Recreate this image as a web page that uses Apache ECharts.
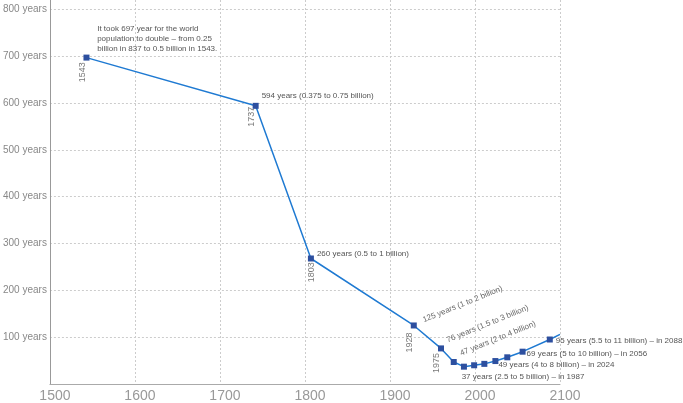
<!DOCTYPE html>
<html><head><meta charset="utf-8">
<script src="https://cdn.jsdelivr.net/npm/echarts@6/dist/echarts.min.js"></script>
<style>html,body{margin:0;padding:0;background:#fff}#c{width:683px;height:403px}</style>
</head><body><div id="c"></div>
<script>
// Data
const years = [1543, 1742, 1807, 1928, 1960, 1975, 1987, 1999, 2011, 2024, 2038, 2056, 2088, 2100];
const doublingYears = [697, 594, 268, 125, 76, 47, 37, 40, 43, 49, 57, 69, 95, 106];
const yearLabels = ['1543', '1737', '1803', '1928', '1975'];
const descTexts = [
  'It took 697 year for the world\npopulation to double – from 0.25\nbillion in 837 to 0.5 billion in 1543.',
  '594 years (0.375 to 0.75 billion)',
  '260 years (0.5 to 1 billion)',
  '125 years (1 to 2 billion)',
  '76 years (1.5 to 3 billion)',
  '47 years (2 to 4 billion)',
  '37 years (2.5 to 5 billion) – in 1987',
  '', '',
  '49 years (4 to 8 billion) – in 2024',
  '',
  '69 years (5 to 10 billion) – in 2056',
  '95 years (5.5 to 11 billion) – in 2088',
  ''
];
const xTicks = [1500, 1600, 1700, 1800, 1900, 2000, 2100];
const yTicks = [100, 200, 300, 400, 500, 600, 700, 800];

// Styling / placement (not data)
const FONT = 'Liberation Sans, Arial, sans-serif';
const descLayout = {
  0: {offset: [10.7, -19], rotate: 0, color: '#555'},
  1: {offset: [6, -10], rotate: 0, color: '#555'},
  2: {offset: [6, -5], rotate: 0, color: '#555'},
  3: {offset: [10.6, -1.4], rotate: 22, color: '#666'},
  4: {offset: [8.6, -5.2], rotate: 22, color: '#666'},
  5: {offset: [9.3, -5.2], rotate: 22, color: '#666'},
  6: {offset: [-2.3, 10], rotate: 0, color: '#555'},
  9: {offset: [3, 4], rotate: 0, color: '#555'},
  11: {offset: [4, 2.4], rotate: 0, color: '#555'},
  12: {offset: [6, 1.5], rotate: 0, color: '#555'}
};
const yearLabelOffsets = [[-14.7, -4.3], [-11, -3.7], [-13.7, 0.3], [-17, -4.7], [-14.7, -4.3]];

const lineData = years.map((y, i) => {
  const item = {value: [y, doublingYears[i]]};
  if (i === years.length - 1) item.symbol = 'none';
  const lay = descLayout[i];
  if (lay && descTexts[i]) {
    item.label = {
      show: true, formatter: descTexts[i], position: 'inside',
      align: 'left', verticalAlign: 'middle', rotate: lay.rotate,
      offset: lay.offset, color: lay.color, fontSize: 8, lineHeight: 10, fontFamily: FONT
    };
  }
  return item;
});

const yearData = yearLabels.map((t, i) => ({
  value: [years[i], doublingYears[i]],
  label: {
    show: true, formatter: t, position: 'inside', rotate: 90,
    align: 'center', verticalAlign: 'middle', offset: yearLabelOffsets[i],
    color: '#555', fontSize: 9, fontFamily: FONT
  }
}));

const chart = echarts.init(document.getElementById('c'), null, {renderer: 'canvas'});
chart.setOption({
  animation: false,
  backgroundColor: '#fff',
  grid: {left: 48, right: 123, top: 0, bottom: 19, containLabel: false},
  xAxis: {
    type: 'value', min: xTicks[0], max: xTicks[xTicks.length - 1], interval: 100,
    axisLine: {show: true, lineStyle: {color: '#aaa', width: 1}},
    axisTick: {show: false},
    axisLabel: {
      formatter: v => String(v), color: '#999', fontSize: 14, fontFamily: FONT,
      margin: 5, padding: [0, 0, 0, 10]
    },
    splitLine: {show: true, showMinLine: false, lineStyle: {color: '#ccc', type: [2, 2], width: 1}}
  },
  yAxis: {
    type: 'value', min: 0, max: 820, interval: 100,
    axisLine: {show: true, lineStyle: {color: '#999', width: 1}},
    axisTick: {show: false},
    axisLabel: {
      formatter: v => (yTicks.indexOf(v) >= 0 ? v + ' years' : ''),
      color: '#888', fontSize: 10, fontFamily: FONT, margin: 3,
      showMaxLabel: false, showMinLabel: false
    },
    splitLine: {show: true, showMinLine: false, showMaxLine: false, lineStyle: {color: '#ccc', type: [2, 2], width: 1}}
  },
  series: [
    {
      type: 'line', data: lineData, symbol: 'rect', symbolSize: 6,
      lineStyle: {color: '#1f7ad2', width: 1.5},
      itemStyle: {color: '#2d4f9f'},
      z: 3
    },
    {
      type: 'scatter', data: yearData, symbolSize: 0, silent: true, z: 4
    }
  ]
});
</script></body></html>
